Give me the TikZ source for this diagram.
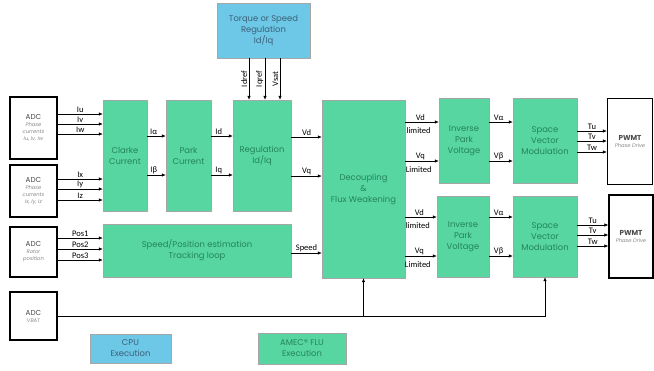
\documentclass[tikz,border=0pt]{standalone}
\usepackage{fontspec}
\setmainfont{Carlito}
\newfontfamily\blkfont{Poppins}
\usepackage{tikz}
\usetikzlibrary{arrows.meta}
\definecolor{flu}{HTML}{57D6A2}
\definecolor{flutext}{HTML}{24845A}
\definecolor{cpu}{HTML}{6CC8E6}
\definecolor{cputext}{HTML}{3E5F78}
\definecolor{adcgrey}{HTML}{8A8A8A}
\newcommand{\adchead}[1]{{\upshape\color{black!70}\fontsize{7.2}{9}\selectfont #1}}

\begin{document}
\begin{tikzpicture}[
   x=1pt,y=-1pt,
   font=\fontsize{8.5}{9}\selectfont,
   blk/.style={draw=black!35,fill=flu,text=flutext,align=center,inner sep=1pt,
      font=\blkfont\fontsize{8.4}{11}\selectfont},
   cpublk/.style={blk,fill=cpu,text=cputext},
   adc/.style={draw,line width=1.3pt,fill=white,align=center,inner sep=1pt,
      text=adcgrey,font=\blkfont\itshape\fontsize{5.2}{7}\selectfont},
   sig/.style={-{Latex[length=4pt,width=3.5pt]},semithick},
   lbl/.style={above,inner sep=1pt}]
\useasboundingbox (0,0) rectangle (654,370);
% sources
\node[cpublk,minimum width=93,minimum height=55] (torque) at (263.5,30.5) {Torque or Speed\\Regulation\\Id/Iq};
\node[adc,minimum width=47,minimum height=62] (adcA) at (33.5,128) {\adchead{ADC}\\Phase\\currents\\Iu, Iv, Iw};
\node[adc,minimum width=47,minimum height=52] (adcB) at (33.5,191) {\adchead{ADC}\\Phase\\currents\\Ix, Iy, Iz};
\node[adc,minimum width=47,minimum height=50] (adcC) at (33.5,252) {\adchead{ADC}\\Rotor\\position};
\node[adc,minimum width=47,minimum height=48] (adcD) at (33.5,316) {\adchead{ADC}\\VBAT};
% processing
\node[blk,minimum width=44,minimum height=111] (clarke) at (125,155.5) {Clarke\\Current};
\node[blk,minimum width=45,minimum height=111] (park) at (188.5,155.5) {Park\\Current};
\node[blk,minimum width=58,minimum height=111] (reg) at (262,155.5) {Regulation\\Id/Iq};
\node[blk,minimum width=188,minimum height=53] (speed) at (197,250.5) {Speed/Position estimation\\Tracking loop};
\node[blk,minimum width=83,minimum height=178] (dec) at (363.5,189) {Decoupling\\\&\\Flux Weakening};
\node[blk,minimum width=50,minimum height=85] (ipA) at (464,140.5) {Inverse\\Park\\Voltage};
\node[blk,minimum width=64,minimum height=85] (svmA) at (545,140.5) {Space\\Vector\\Modulation};
\node[blk,minimum width=52,minimum height=81] (ipB) at (463,236.5) {Inverse\\Park\\Voltage};
\node[blk,minimum width=64,minimum height=81] (svmB) at (545,236.5) {Space\\Vector\\Modulation};
\node[adc,minimum width=45,minimum height=86] (pwmA) at (630,141.5) {\adchead{\bfseries PWMT}\\Phase Drive};
\node[adc,minimum width=44,minimum height=83] (pwmB) at (631,236.5) {\adchead{\bfseries PWMT}\\Phase Drive};
% legend
\node[cpublk,minimum width=81,minimum height=29] (cpuKey) at (130.5,348.5) {CPU\\Execution};
\node[blk,minimum width=88,minimum height=31] (fluKey) at (302,348.5) {AMEC\textregistered{} FLU\\Execution};
% references
\foreach \x/\t in {249/Idref,265/Iqref,280/Vsat}
  \draw[sig] (torque.south -| \x,0) -- node[rotate=90,anchor=south,inner sep=1.5pt] {\t} (reg.north -| \x,0);
% currents
\foreach \y/\t in {114/Iu,124/Iv,134/Iw}
  \draw[sig] (adcA.east |- 0,\y) -- node[lbl] {\t} (clarke.west |- 0,\y);
\foreach \y/\t in {179/Ix,189/Iy,200/Iz}
  \draw[sig] (adcB.east |- 0,\y) -- node[lbl] {\t} (clarke.west |- 0,\y);
\foreach \y/\t in {238/Pos1,249/Pos2,260/Pos3}
  \draw[sig] (adcC.east |- 0,\y) -- node[lbl] {\t} (speed.west |- 0,\y);
\draw[sig] (clarke.east |- 0,136) -- node[lbl,pos=.35] {Iα} (park.west |- 0,136);
\draw[sig] (clarke.east |- 0,175) -- node[lbl,pos=.35] {Iβ} (park.west |- 0,175);
\draw[sig] (park.east |- 0,136) -- node[lbl,pos=.35] {Id} (reg.west |- 0,136);
\draw[sig] (park.east |- 0,175) -- node[lbl,pos=.35] {Iq} (reg.west |- 0,175);
\draw[sig] (reg.east |- 0,137) -- node[lbl] {Vd} (dec.west |- 0,137);
\draw[sig] (reg.east |- 0,176) -- node[lbl] {Vq} (dec.west |- 0,176);
\draw[sig] (speed.east |- 0,253) -- node[lbl] {Speed} (dec.west |- 0,253);
% voltages
\foreach \ip/\svm/\pw/\a/\b/\ta/\tb/\tc in {ipA/svmA/pwmA/122/161/131/141/152,ipB/svmB/pwmB/217/256/225/235/246}{
  \draw[sig] (dec.east |- 0,\a) -- node[lbl,pos=.45] {Vd} node[below=2pt,pos=.4] {limited} (\ip.west |- 0,\a);
  \draw[sig] (dec.east |- 0,\b) -- node[lbl,pos=.45] {Vq} node[below=2pt,pos=.4] {Limited} (\ip.west |- 0,\b);
  \draw[sig] (\ip.east |- 0,\a) -- node[lbl,pos=.4] {Vα} (\svm.west |- 0,\a);
  \draw[sig] (\ip.east |- 0,\b) -- node[lbl,pos=.4] {Vβ} (\svm.west |- 0,\b);
  \draw[sig] (\svm.east |- 0,\ta) -- node[lbl] {Tu} (\pw.west |- 0,\ta);
  \draw[sig] (\svm.east |- 0,\tb) -- node[lbl] {Tv} (\pw.west |- 0,\tb);
  \draw[sig] (\svm.east |- 0,\tc) -- node[lbl] {Tw} (\pw.west |- 0,\tc);
}
% battery voltage
\draw[sig] (adcD.east) -| (svmB.south);
\draw[sig] (dec.south |- adcD.east) -- (dec.south);
\end{tikzpicture}
\end{document}
